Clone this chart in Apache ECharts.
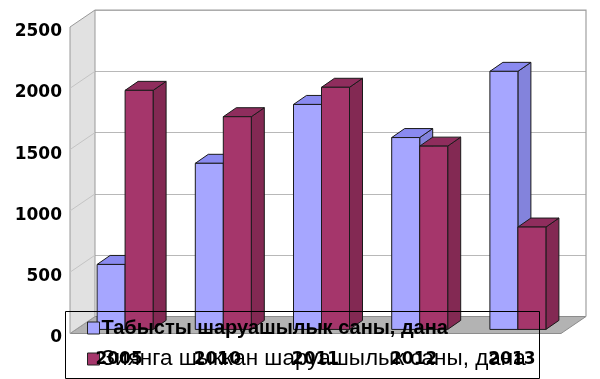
<!DOCTYPE html>
<html>
<head>
<meta charset="utf-8">
<script src="https://cdn.jsdelivr.net/npm/echarts@6/dist/echarts.min.js"></script>
<style>html,body{margin:0;padding:0;background:#fff;}#c{width:600px;height:379px;}</style>
</head>
<body>
<div id="c"></div>
<script>
// ---- data ----
const categories = ['2005', '2010', '2011', '2012', '2013'];
const profitable = [530, 1355, 1835, 1565, 2105];
const lossMaking = [1950, 1735, 1975, 1495, 835];
const yTicks = [0, 500, 1000, 1500, 2000, 2500];
const seriesNames = ['Табысты шаруашылык саны, дана', 'Зиянга шыккан шаруашылык саны, дана'];

// ---- layout / style ----
const FRONT = {left: 70, top: 27, right: 39, bottom: 45.5};
const DX = 25, DY = -17;            // depth of the box
const T = 0.24;                     // depth of bar plane
const BAR_W = 28, BDX = 13, BDY = -9;
const FONT = 'DejaVu Sans';

function offsetGrid(t) {
  return {left: FRONT.left + DX * t, top: FRONT.top + DY * t,
          right: FRONT.right - DX * t, bottom: FRONT.bottom - DY * t};
}
const BACK = offsetGrid(1), BARS = offsetGrid(T);

const COLORS = [
  {front: '#a6a6ff', top: '#8a8af0', side: '#8383dc'},
  {front: '#a5366b', top: '#8f2d5d', side: '#832953'}
];

function barRender(k) {
  return function (params, api) {
    const idx = api.value(0), val = api.value(1);
    const top = api.coord([idx, val]);
    const base = api.coord([idx, 0]);
    const x0 = top[0] - BAR_W + k * BAR_W, x1 = x0 + BAR_W;
    const yt = top[1], yb = base[1];
    const c = COLORS[k];
    const st = (f) => ({fill: f, stroke: '#1a1a1a', lineWidth: 1});
    return {type: 'group', children: [
      {type: 'polygon', shape: {points: [[x1, yt], [x1 + BDX, yt + BDY], [x1 + BDX, yb + BDY], [x1, yb]]}, style: st(c.side)},
      {type: 'polygon', shape: {points: [[x0, yt], [x1, yt], [x1 + BDX, yt + BDY], [x0 + BDX, yt + BDY]]}, style: st(c.top)},
      {type: 'rect', shape: {x: x0, y: yt, width: BAR_W, height: yb - yt}, style: st(c.front)}
    ]};
  };
}

function wallRender(params, api) {
  const cs = params.coordSys;
  const xl = cs.x, xr = cs.x + cs.width;
  const y0 = api.coord([0, 0])[1];
  const yTop = api.coord([0, yTicks[yTicks.length - 1]])[1];
  const children = [];
  // floor
  children.push({type: 'polygon', shape: {points: [[xl, y0], [xr, y0], [xr + DX, y0 + DY], [xl + DX, y0 + DY]]},
    style: {fill: '#b3b3b3', stroke: '#8c8c8c', lineWidth: 1}});
  // left wall
  children.push({type: 'polygon', shape: {points: [[xl, y0], [xl, yTop], [xl + DX, yTop + DY], [xl + DX, y0 + DY]]},
    style: {fill: '#e1e1e1', stroke: '#999999', lineWidth: 1}});
  // diagonal tick lines on left wall
  yTicks.slice(1, -1).forEach(v => {
    const y = api.coord([0, v])[1];
    children.push({type: 'line', shape: {x1: xl, y1: y, x2: xl + DX, y2: y + DY}, style: {stroke: '#c4c4c4', lineWidth: 1}});
  });
  // back wall outline
  children.push({type: 'polyline', shape: {points: [[xl + DX, yTop + DY], [xr + DX, yTop + DY], [xr + DX, y0 + DY]]},
    style: {fill: null, stroke: '#a0a0a0', lineWidth: 1.2}});
  return {type: 'group', children: children};
}

const chart = echarts.init(document.getElementById('c'), null, {renderer: 'canvas'});
chart.setOption({
  animation: false,
  backgroundColor: '#ffffff',
  grid: [
    Object.assign({}, BACK),
    Object.assign({}, FRONT),
    Object.assign({}, BARS)
  ],
  xAxis: [
    {gridIndex: 0, type: 'category', data: categories, show: false},
    {gridIndex: 1, type: 'category', data: categories, z: 20, zlevel: 1,
     axisLine: {show: false}, axisTick: {show: false},
     axisLabel: {margin: 18, fontFamily: FONT, fontWeight: 'bold', fontSize: 17, color: '#000'}},
    {gridIndex: 2, type: 'category', data: categories, show: false}
  ],
  yAxis: [
    {gridIndex: 0, type: 'value', min: 0, max: 2500, interval: 500,
     axisLine: {show: false}, axisTick: {show: false}, axisLabel: {show: false},
     splitLine: {lineStyle: {color: '#b8b8b8', width: 1}}},
    {gridIndex: 1, type: 'value', min: 0, max: 2500, interval: 500,
     axisLine: {show: false}, axisTick: {show: false}, splitLine: {show: false},
     axisLabel: {margin: 8, verticalAlign: 'top', lineHeight: 9, fontFamily: FONT, fontWeight: 'bold', fontSize: 17, color: '#000',
                 formatter: v => String(v)}},
    {gridIndex: 2, type: 'value', min: 0, max: 2500, interval: 500, show: false, splitLine: {show: false}}
  ],
  legend: {
    orient: 'vertical', left: 82, top: 311, itemWidth: 12, itemHeight: 12, itemGap: 7,
    icon: 'rect', z: 4,
    itemStyle: {borderColor: '#222', borderWidth: 1},
    textStyle: {fontFamily: 'Liberation Sans', fontSize: 21, lineHeight: 24, color: '#000', padding: [0, 0, 0, -3]},
    data: [
      {name: seriesNames[0], textStyle: {fontWeight: 'bold', fontSize: 20, lineHeight: 24}},
      {name: seriesNames[1], textStyle: {fontSize: 22.5, lineHeight: 24}}
    ]
  },
  graphic: [
    {type: 'rect', left: 63, top: 309, shape: {width: 474, height: 67}, z: 5,
     style: {fill: null, stroke: '#000', lineWidth: 1}}
  ],
  series: [
    {type: 'custom', name: 'walls', xAxisIndex: 1, yAxisIndex: 1, silent: true, z: 1,
     renderItem: wallRender, data: [[0, 0]], clip: false},
    {type: 'custom', name: seriesNames[0], xAxisIndex: 2, yAxisIndex: 2, z: 2, clip: false,
     itemStyle: {color: COLORS[0].front},
     encode: {x: 0, y: 1},
     renderItem: barRender(0), data: categories.map((c, i) => [i, profitable[i]])},
    {type: 'custom', name: seriesNames[1], xAxisIndex: 2, yAxisIndex: 2, z: 3, clip: false,
     itemStyle: {color: COLORS[1].front},
     encode: {x: 0, y: 1},
     renderItem: barRender(1), data: categories.map((c, i) => [i, lossMaking[i]])}
  ]
});
</script>
</body>
</html>
